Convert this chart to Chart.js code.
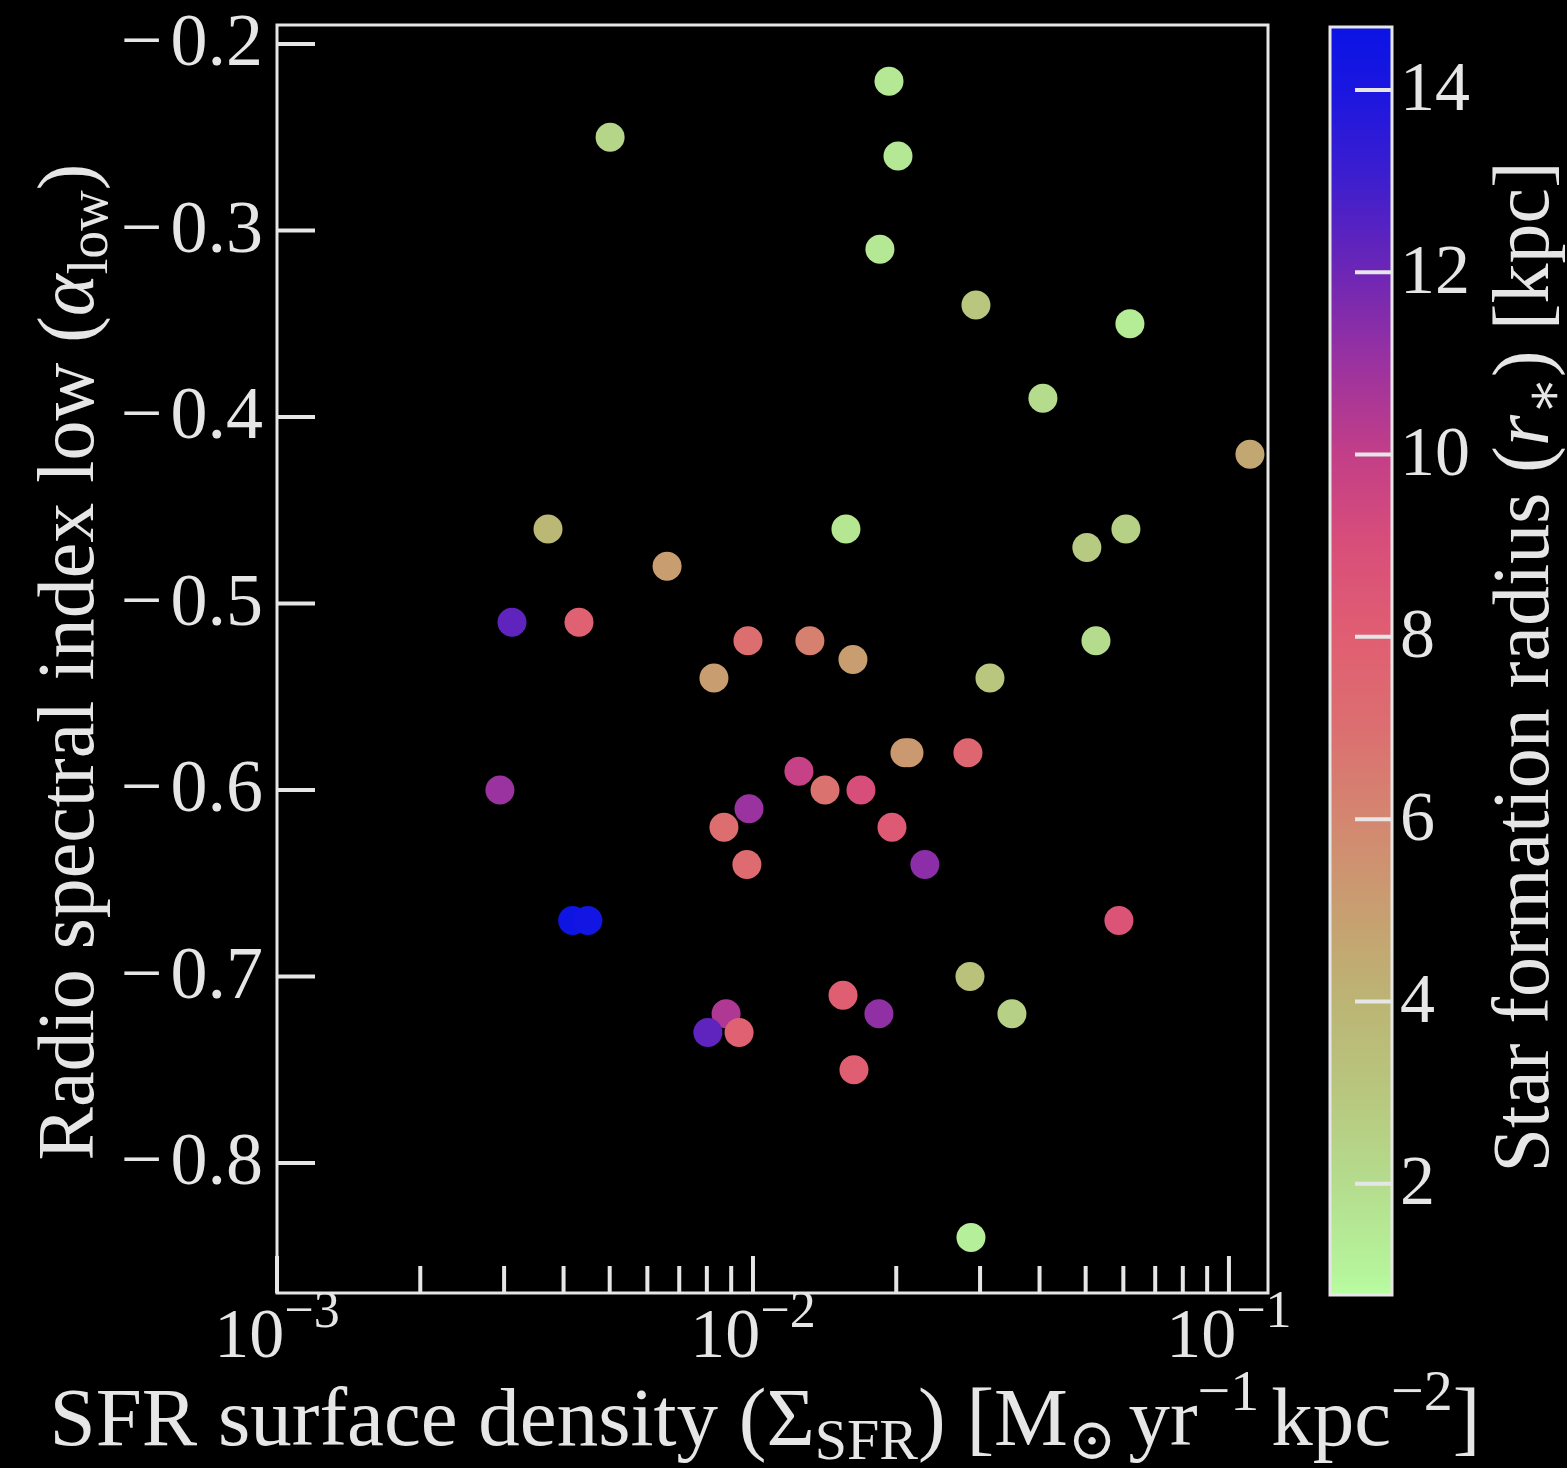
<!DOCTYPE html>
<html>
<head>
<meta charset="utf-8">
<script src="https://cdn.jsdelivr.net/npm/chart.js@4.4.0/dist/chart.umd.min.js"></script>
<style>
  html, body { margin: 0; padding: 0; background: #000; }
  #plot { display: block; }
</style>
</head>
<body>
<canvas id="plot" width="1567" height="1468"></canvas>
<script>
// Star-formation surface density per galaxy [M_sun / yr / kpc^2]
const sfrDensity = [
  0.01931, 0.00501, 0.02017, 0.01848, 0.02941, 0.06194, 0.04066, 0.1107,
  0.00371, 0.01568, 0.06075, 0.05029, 0.00660, 0.003117, 0.00431, 0.00976,
  0.01317, 0.05256, 0.01622, 0.00828, 0.03147, 0.02086, 0.02127, 0.02829,
  0.00294, 0.01249, 0.01417, 0.01686, 0.00869, 0.00981, 0.01959, 0.00971,
  0.02297, 0.00418, 0.00450, 0.05873, 0.02857, 0.01546, 0.03500, 0.01839,
  0.00878, 0.00804, 0.00935, 0.01630, 0.02871
];
// Low-frequency radio spectral index
const alphaLow = [
  -0.22, -0.25, -0.26, -0.31, -0.34, -0.35, -0.39, -0.42,
  -0.46, -0.46, -0.46, -0.47, -0.48, -0.51, -0.51, -0.52,
  -0.52, -0.52, -0.53, -0.54, -0.54, -0.58, -0.58, -0.58,
  -0.60, -0.59, -0.60, -0.60, -0.62, -0.61, -0.62, -0.64,
  -0.64, -0.67, -0.67, -0.67, -0.70, -0.71, -0.72, -0.72,
  -0.72, -0.73, -0.73, -0.75, -0.84
];
// Star formation radius r_* [kpc], used for the marker colour
const sfRadius = [
  1.5, 2.3, 1.5, 1.5, 3.0, 1.3, 2.0, 4.6,
  3.8, 1.6, 2.5, 2.8, 5.0, 12.3, 7.8, 7.0,
  6.2, 2.0, 5.0, 5.0, 3.0, 5.2, 5.2, 7.5,
  11.0, 9.8, 6.8, 9.0, 7.0, 11.0, 8.3, 7.2,
  11.3, 14.5, 14.3, 8.6, 3.3, 8.0, 2.5, 11.2,
  10.5, 12.3, 7.8, 8.0, 1.2
];

// Axis ticks and labels
const yTickValues = [-0.2, -0.3, -0.4, -0.5, -0.6, -0.7, -0.8];
const yTickLabels = ['−0.2', '−0.3', '−0.4', '−0.5', '−0.6', '−0.7', '−0.8'];
const xMajorTicks = [1e-3, 1e-2, 1e-1];
const xTickBase = ['10', '10', '10'];
const xTickExponents = ['−3', '−2', '−1'];
const colorbarTicks = [2, 4, 6, 8, 10, 12, 14];
const colorbarLabels = ['2', '4', '6', '8', '10', '12', '14'];

// Colour map (value in kpc -> colour)
const cmapValues = [0.78, 1, 2, 3, 4, 5, 6, 7, 8, 9, 10, 11, 12, 13, 14, 14.69];
const cmapColors = ['#b8fca0', '#b6f49c', '#b4dc8c', '#b8c67e', '#bcb474', '#c89e70',
                    '#d48670', '#dc6e70', '#e05e72', '#d84e7a', '#c23e88', '#9a32a0',
                    '#6c26b6', '#3e1ece', '#1a16e0', '#0a14e4'];

const FG = '#e6e6e6';
const SERIF = '"Liberation Serif", "DejaVu Serif", serif';

function hexToRgb(h) {
  const n = parseInt(h.slice(1), 16);
  return [(n >> 16) & 255, (n >> 8) & 255, n & 255];
}
function cmap(v) {
  if (v <= cmapValues[0]) return cmapColors[0];
  for (let i = 1; i < cmapValues.length; i++) {
    if (v <= cmapValues[i]) {
      const t = (v - cmapValues[i - 1]) / (cmapValues[i] - cmapValues[i - 1]);
      const a = hexToRgb(cmapColors[i - 1]), b = hexToRgb(cmapColors[i]);
      const c = a.map((x, k) => Math.round(x + (b[k] - x) * t));
      return `rgb(${c[0]},${c[1]},${c[2]})`;
    }
  }
  return cmapColors[cmapColors.length - 1];
}

// Draw a run of text pieces (sub/superscripts) on a common baseline
function richWidth(ctx, parts) {
  let w = 0;
  for (const p of parts) {
    ctx.font = `${p.italic ? 'italic ' : ''}${p.size}px ${SERIF}`;
    w += ctx.measureText(p.t).width + (p.gap || 0);
  }
  return w;
}
function drawRich(ctx, parts, x, y, align) {
  const w = richWidth(ctx, parts);
  let cx = align === 'center' ? x - w / 2 : (align === 'right' ? x - w : x);
  ctx.textAlign = 'left';
  ctx.textBaseline = 'alphabetic';
  for (const p of parts) {
    ctx.font = `${p.italic ? 'italic ' : ''}${p.size}px ${SERIF}`;
    ctx.fillText(p.t, cx, y + (p.dy || 0));
    cx += ctx.measureText(p.t).width + (p.gap || 0);
  }
}

const framePlugin = {
  id: 'frame',
  beforeDraw(chart) {
    const ctx = chart.ctx;
    ctx.save();
    ctx.fillStyle = '#000';
    ctx.fillRect(0, 0, chart.width, chart.height);
    ctx.restore();
  },
  afterDraw(chart) {
    const ctx = chart.ctx;
    const xs = chart.scales.x, ys = chart.scales.y, cs = chart.scales.c;
    const { left, right, top, bottom } = chart.chartArea;
    ctx.save();
    ctx.strokeStyle = FG;
    ctx.fillStyle = FG;

    // frame
    ctx.lineWidth = 3;
    ctx.strokeRect(left, top, right - left, bottom - top);

    // y ticks (inward) + labels
    ctx.lineWidth = 4;
    ctx.textAlign = 'right';
    ctx.textBaseline = 'middle';
    yTickValues.forEach((v, i) => {
      const py = ys.getPixelForValue(v);
      ctx.beginPath(); ctx.moveTo(left, py); ctx.lineTo(left + 38, py); ctx.stroke();
      const lbl = yTickLabels[i];
      ctx.font = `74px ${SERIF}`;
      const numW = ctx.measureText(lbl.slice(1)).width;
      ctx.fillText(lbl.slice(1), left - 14, py + 2);
      ctx.fillText(lbl[0], left - 14 - numW - 8, py + 2);
    });

    // x ticks: majors at decades, minors at 2..9
    for (let d = -3; d <= -1; d++) {
      for (let m = 1; m <= 9; m++) {
        const v = m * Math.pow(10, d);
        if (v > xs.max) break;
        const px = xs.getPixelForValue(v);
        const len = m === 1 ? 37 : 27;
        ctx.beginPath(); ctx.moveTo(px, bottom); ctx.lineTo(px, bottom - len); ctx.stroke();
      }
    }
    xMajorTicks.forEach((v, i) => {
      const px = xs.getPixelForValue(v);
      drawRich(ctx, [
        { t: xTickBase[i], size: 70 },
        { t: xTickExponents[i], size: 52, dy: -30 }
      ], px, bottom + 64, 'center');
    });

    // x title
    drawRich(ctx, [
      { t: 'SFR surface density (Σ', size: 83 },
      { t: 'SFR', size: 58, dy: 14 },
      { t: ') [M', size: 83 },
      { t: '⊙', size: 58, dy: 14, gap: 12 },
      { t: 'yr', size: 83 },
      { t: '−1', size: 58, dy: -35, gap: 12 },
      { t: 'kpc', size: 83 },
      { t: '−2', size: 58, dy: -35 },
      { t: ']', size: 83 }
    ], 765, 1445, 'center');

    // y title (rotated)
    ctx.save();
    ctx.translate(93, 662);
    ctx.rotate(-Math.PI / 2);
    drawRich(ctx, [
      { t: 'Radio spectral index low (', size: 80 },
      { t: 'α', size: 80, italic: true },
      { t: 'low', size: 56, dy: 14 },
      { t: ')', size: 80 }
    ], 0, 0, 'center');
    ctx.restore();

    // colour bar
    const cbLeft = cs.left + 62, cbW = 62;
    const yTop = cs.getPixelForValue(cs.max), yBot = cs.getPixelForValue(cs.min);
    const grad = ctx.createLinearGradient(0, yBot, 0, yTop);
    cmapValues.forEach((v, i) => {
      grad.addColorStop((v - cs.min) / (cs.max - cs.min), cmapColors[i]);
    });
    ctx.fillStyle = grad;
    ctx.fillRect(cbLeft, yTop + 2, cbW, yBot - yTop);
    ctx.lineWidth = 3;
    ctx.strokeStyle = FG;
    ctx.strokeRect(cbLeft, yTop + 2, cbW, yBot - yTop);
    ctx.lineWidth = 4;
    ctx.fillStyle = FG;
    ctx.font = `70px ${SERIF}`;
    ctx.textAlign = 'left';
    ctx.textBaseline = 'middle';
    colorbarTicks.forEach((v, i) => {
      const py = cs.getPixelForValue(v) + 2;
      ctx.beginPath(); ctx.moveTo(cbLeft + cbW, py); ctx.lineTo(cbLeft + cbW - 37, py); ctx.stroke();
      ctx.fillText(colorbarLabels[i], cbLeft + cbW + 8, py + 2);
    });

    // colour bar title (rotated)
    ctx.save();
    ctx.translate(1548, 667);
    ctx.rotate(-Math.PI / 2);
    drawRich(ctx, [
      { t: 'Star formation radius (', size: 80 },
      { t: 'r', size: 80, italic: true },
      { t: '∗', size: 56, dy: 14 },
      { t: ') [kpc]', size: 80 }
    ], 0, 0, 'center');
    ctx.restore();

    ctx.restore();
  }
};

const hidden = {
  ticks: { display: false },
  grid: { display: false },
  border: { display: false },
  title: { display: false }
};

new Chart(document.getElementById('plot'), {
  type: 'scatter',
  data: {
    datasets: [{
      data: sfrDensity.map((x, i) => ({ x: x, y: alphaLow[i] })),
      pointBackgroundColor: sfRadius.map(cmap),
      pointBorderWidth: 0,
      pointRadius: 14.5,
      pointHoverRadius: 14.5
    }]
  },
  options: {
    responsive: false,
    devicePixelRatio: 1,
    animation: false,
    events: [],
    layout: { padding: { top: 25, left: 0, right: 0, bottom: 0 } },
    plugins: { legend: { display: false }, tooltip: { enabled: false } },
    scales: {
      x: Object.assign({ type: 'logarithmic', min: 1e-3, max: 0.1208,
        afterFit(s) { s.height = 175; } }, hidden),
      y: Object.assign({ type: 'linear', min: -0.86971, max: -0.18981,
        afterFit(s) { s.width = 277; } }, hidden),
      c: Object.assign({ type: 'linear', position: 'right', min: 0.78, max: 14.69,
        afterFit(s) { s.width = 299; } }, hidden)
    }
  },
  plugins: [framePlugin]
});
</script>
</body>
</html>
